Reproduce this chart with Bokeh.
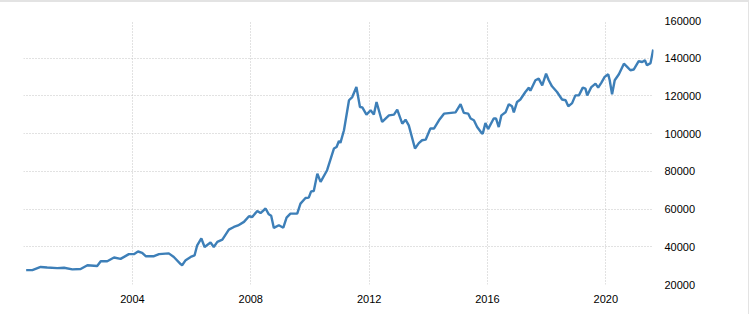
from bokeh.plotting import figure
from bokeh.models import FixedTicker, NumeralTickFormatter, CustomJSTickFormatter
from bokeh.embed import file_html
from bokeh.resources import INLINE

years = [
    2000.41, 2000.62, 2000.90, 2001.12, 2001.46, 2001.69, 2001.97, 2002.25, 2002.48, 2002.81,
    2002.93, 2003.15, 2003.38, 2003.60, 2003.88, 2004.05, 2004.19, 2004.33, 2004.45, 2004.73,
    2004.90, 2005.23, 2005.40, 2005.63, 2005.68, 2005.80, 2005.97, 2006.10, 2006.19, 2006.33,
    2006.44, 2006.64, 2006.75, 2006.87, 2007.04, 2007.26, 2007.43, 2007.57, 2007.77, 2007.94,
    2008.05, 2008.22, 2008.33, 2008.50, 2008.61, 2008.69, 2008.78, 2008.95, 2009.10, 2009.21,
    2009.34, 2009.57, 2009.68, 2009.85, 2009.96, 2010.04, 2010.13, 2010.25, 2010.36, 2010.58,
    2010.81, 2010.90, 2010.98, 2011.03, 2011.15, 2011.32, 2011.43, 2011.57, 2011.69, 2011.77,
    2011.91, 2012.05, 2012.16, 2012.25, 2012.44, 2012.67, 2012.84, 2012.95, 2013.12, 2013.23,
    2013.34, 2013.55, 2013.68, 2013.79, 2013.91, 2014.07, 2014.19, 2014.36, 2014.53, 2014.69,
    2014.92, 2015.09, 2015.20, 2015.35, 2015.43, 2015.54, 2015.65, 2015.80, 2015.84, 2015.93,
    2016.02, 2016.21, 2016.29, 2016.38, 2016.47, 2016.61, 2016.72, 2016.83, 2016.89, 2017.00,
    2017.11, 2017.28, 2017.40, 2017.45, 2017.62, 2017.73, 2017.85, 2017.98, 2018.07, 2018.18,
    2018.35, 2018.52, 2018.64, 2018.73, 2018.86, 2018.97, 2019.09, 2019.22, 2019.31, 2019.37,
    2019.51, 2019.65, 2019.74, 2019.85, 2019.96, 2020.08, 2020.13, 2020.21, 2020.30, 2020.44,
    2020.61, 2020.72, 2020.83, 2020.94, 2021.11, 2021.23, 2021.32, 2021.39, 2021.51, 2021.60,
]
values = [
    27600, 27600, 29300, 29000, 28700, 28900, 28000, 28200, 30200, 29800,
    32300, 32300, 34300, 33600, 36100, 36100, 37500, 36800, 35000, 35000,
    36100, 36500, 34600, 30800, 30200, 32900, 34600, 35400, 40800, 44400,
    39900, 42300, 39900, 42600, 43800, 49100, 50500, 51300, 53200, 56200,
    55800, 59000, 57900, 60300, 57200, 56400, 50000, 51400, 50100, 55500,
    57600, 57600, 62900, 65900, 66100, 69400, 69600, 78800, 74400, 80600,
    92100, 92900, 96100, 95100, 101800, 117700, 119400, 124700, 114100, 113900,
    110100, 112400, 110100, 116800, 106200, 109700, 110100, 112700, 105300, 107400,
    104400, 92100, 95000, 96500, 96800, 102700, 102700, 107100, 110600, 110900,
    111300, 115600, 111000, 110600, 108000, 107100, 103500, 100300, 100000, 105600,
    102400, 108000, 108000, 103500, 109700, 111300, 115600, 114500, 111300, 116800,
    118100, 122100, 124400, 122700, 128300, 129200, 125600, 131800, 128300, 125100,
    122100, 118100, 117700, 114500, 116200, 120300, 120300, 124400, 123900, 120300,
    124700, 126500, 124400, 127100, 130100, 131500, 128300, 120900, 128300, 131500,
    137100, 135400, 133600, 134000, 138400, 138000, 138900, 136300, 137400, 144600,
]
x_ticks = [2004, 2008, 2012, 2016, 2020]
y_ticks = [20000, 40000, 60000, 80000, 100000, 120000, 140000, 160000]

p = figure(width=749, height=314, output_backend="svg", toolbar_location=None,
           x_range=(2000.32, 2021.61), y_range=(20000, 160000),
           y_axis_location="right", min_border_left=23, min_border_right=96,
           min_border_top=18, min_border_bottom=32)
p.outline_line_color = None
p.background_fill_color = "white"
p.border_fill_color = "white"

p.line(years, values, line_color="#3d7fb8", line_width=2.4)

for ax in (p.xaxis[0], p.yaxis[0]):
    ax.axis_line_color = None
    ax.major_tick_line_color = None
    ax.minor_tick_line_color = None
    ax.major_label_text_font = "Liberation Sans"
    ax.major_label_text_font_size = "11px"
    ax.major_label_text_color = "#000000"

p.xaxis[0].ticker = FixedTicker(ticks=x_ticks)
p.xaxis[0].formatter = CustomJSTickFormatter(code="return tick.toFixed(0);")
p.xaxis[0].major_label_standoff = 4
p.yaxis[0].ticker = FixedTicker(ticks=y_ticks)
p.yaxis[0].formatter = NumeralTickFormatter(format="0")
p.yaxis[0].major_label_standoff = 5

for g in (p.xgrid[0], p.ygrid[0]):
    g.grid_line_color = "#c4c4c4"
    g.grid_line_dash = "1 2"
    g.grid_line_width = 1
p.xgrid[0].ticker = FixedTicker(ticks=x_ticks)
p.ygrid[0].ticker = FixedTicker(ticks=y_ticks)

p.styles = {"border-top": "2px solid #e3e3e3", "border-right": "1px solid #e3e3e3"}

open("out.html", "w").write(file_html(p, INLINE))
